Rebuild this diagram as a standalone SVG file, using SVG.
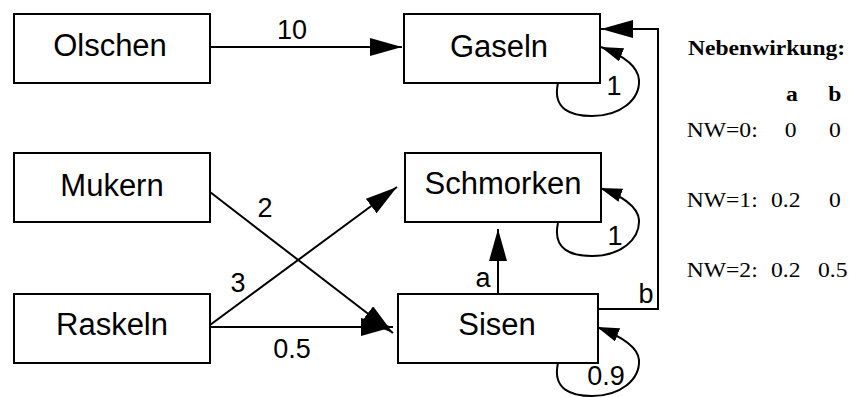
<svg xmlns="http://www.w3.org/2000/svg" width="849" height="397" viewBox="0 0 849 397">
<defs>
<style>
.box{fill:#fff;stroke:#000;stroke-width:2}
.lbl{font-family:"Liberation Sans",Arial,sans-serif;font-size:31px;text-anchor:middle;fill:#000}
.el{font-family:"Liberation Sans",Arial,sans-serif;font-size:27px;text-anchor:middle;fill:#000}
.c{fill:none;stroke:#000;stroke-width:2}
.ca{fill:none;stroke:#000;stroke-width:2;marker-end:url(#big)}
.cl{fill:none;stroke:#000;stroke-width:2;marker-end:url(#small)}
.leg{font-family:"Liberation Serif","Times New Roman",serif;font-size:20px;fill:#000}
.b{font-weight:bold}
</style>
<marker id="big" markerUnits="userSpaceOnUse" markerWidth="32" markerHeight="18" refX="32" refY="9" orient="auto" viewBox="0 0 32 18">
<path d="M0,0 L32,9 L0,18 Z" fill="#000"/>
</marker>
<marker id="small" markerUnits="userSpaceOnUse" markerWidth="22" markerHeight="14" refX="22" refY="7" orient="auto" viewBox="0 0 22 14">
<path d="M0,0 L22,7 L0,14 Z" fill="#000"/>
</marker>
</defs>
<rect width="849" height="397" fill="#fff"/>
<g id="connectors">
<line class="ca" x1="210" y1="47" x2="402" y2="47"/>
<line class="ca" x1="210" y1="192" x2="393" y2="333"/>
<line class="ca" x1="210" y1="325" x2="397" y2="187"/>
<line class="ca" x1="210" y1="327" x2="393" y2="327"/>
<line class="ca" x1="498" y1="294" x2="498" y2="229"/>
<path class="ca" d="M597,309 L658,309 L658,29 L601,29"/>
<path class="cl" d="M558,83 C552,110 572,116 592,116 C620,116 640,100 639,80 C638,66 622,55 601,47"/>
<path class="cl" d="M558,223 C552,250 572,256 592,256 C620,256 640,240 639,220 C638,206 620,195 600,188"/>
<path class="cl" d="M558,363 C552,390 572,396 592,396 C620,396 640,380 639,360 C638,346 618,335 597,327"/>
<text class="el" x="292" y="39">10</text>
<text class="el" x="265" y="217">2</text>
<text class="el" x="238" y="292">3</text>
<text class="el" x="292" y="358">0.5</text>
<text class="el" x="483" y="287">a</text>
<text class="el" x="646" y="303">b</text>
<text class="el" x="614" y="95">1</text>
<text class="el" x="615" y="245">1</text>
<text class="el" x="606" y="385">0.9</text>
</g>
<g id="olschen"><rect class="box" x="14" y="14" width="196" height="69"/><text class="lbl" x="110" y="56">Olschen</text></g>
<g id="gaseln"><rect class="box" x="404" y="14" width="196" height="69"/><text class="lbl" x="499" y="57">Gaseln</text></g>
<g id="mukern"><rect class="box" x="14" y="153" width="196" height="69"/><text class="lbl" x="112" y="196">Mukern</text></g>
<g id="schmorken"><rect class="box" x="405" y="153" width="196" height="69"/><text class="lbl" x="503" y="194">Schmorken</text></g>
<g id="raskeln"><rect class="box" x="14" y="294" width="196" height="69"/><text class="lbl" x="112" y="335">Raskeln</text></g>
<g id="sisen"><rect class="box" x="398" y="294" width="200" height="69"/><text class="lbl" x="497" y="335">Sisen</text></g>
<g id="legend" transform="matrix(1.18 0 0 1 0 0)">
<text class="leg b" x="583" y="55">Nebenwirkung:</text>
<text class="leg b" x="666" y="101">a</text>
<text class="leg b" x="702" y="101">b</text>
<text class="leg" x="582" y="137">NW=0:</text>
<text class="leg" x="665" y="137">0</text>
<text class="leg" x="702.5" y="137">0</text>
<text class="leg" x="582" y="207">NW=1:</text>
<text class="leg" x="653.4" y="207">0.2</text>
<text class="leg" x="702.5" y="207">0</text>
<text class="leg" x="582" y="277">NW=2:</text>
<text class="leg" x="653.4" y="277">0.2</text>
<text class="leg" x="693.2" y="277">0.5</text>
</g>
</svg>
